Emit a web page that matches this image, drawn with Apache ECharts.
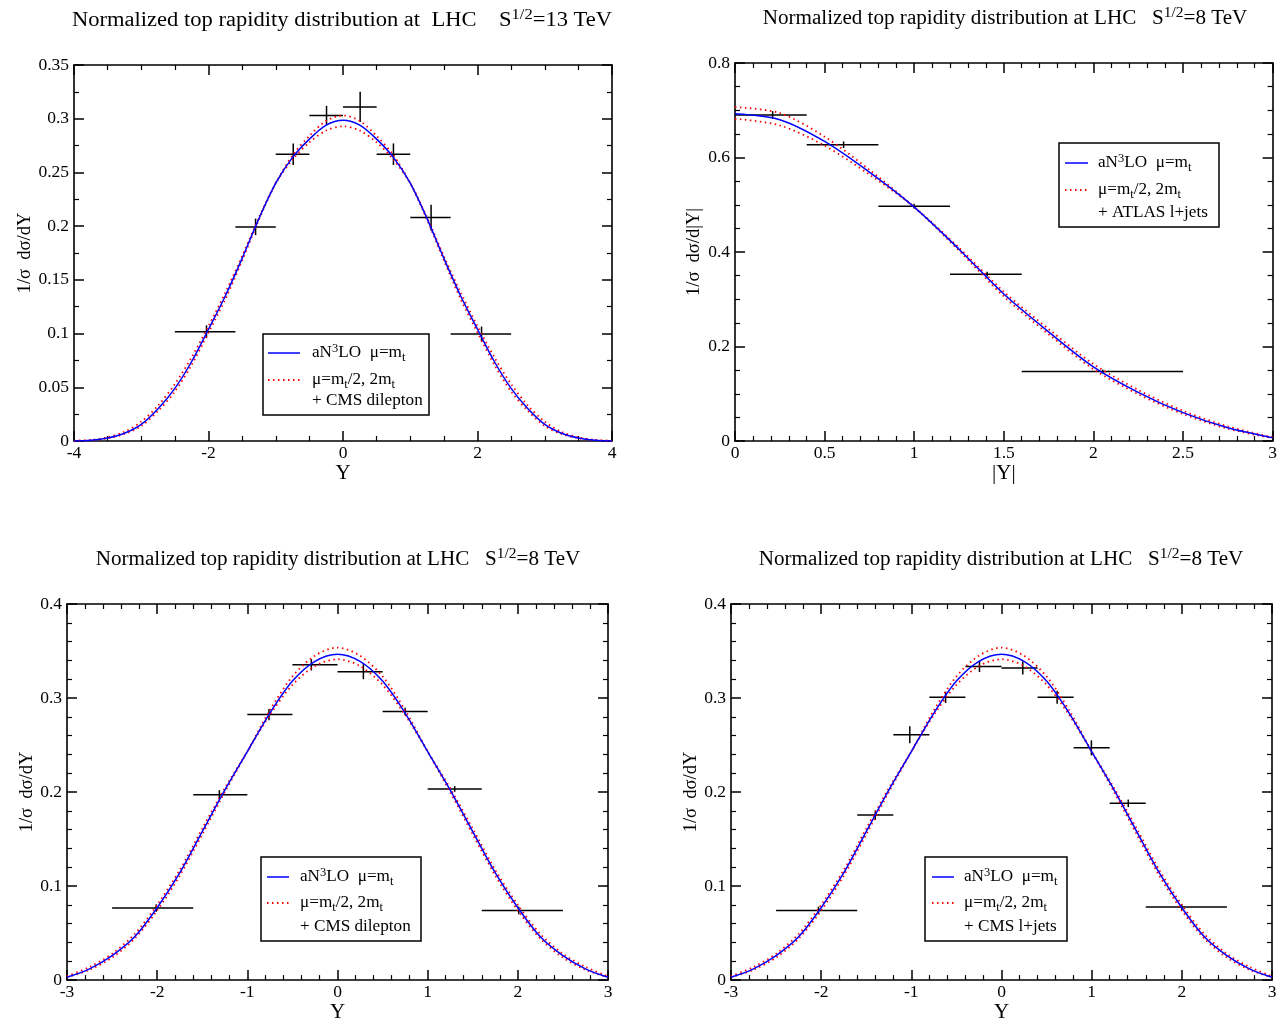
<!DOCTYPE html>
<html><head><meta charset="utf-8">
<script src="https://cdn.jsdelivr.net/npm/echarts@6/dist/echarts.min.js"></script>
<style>html,body{margin:0;padding:0;background:#fff}#c{width:1280px;height:1024px}</style>
</head><body><div id="c"></div><script>
// ---------- Panel 1: 13 TeV, CMS dilepton ----------
const Y13 = [-4,-3.75,-3.5,-3.25,-3,-2.75,-2.5,-2.25,-2,-1.75,-1.5,-1.25,-1,-0.75,-0.5,-0.25,0,0.25,0.5,0.75,1,1.25,1.5,1.75,2,2.25,2.5,2.75,3,3.25,3.5,3.75,4];
const blue13 = [0.0001,0.0008,0.0028,0.0072,0.0155,0.030,0.049,0.074,0.104,0.135,0.170,0.207,0.240,0.264,0.281,0.294,0.2985,0.294,0.281,0.264,0.240,0.207,0.170,0.135,0.104,0.074,0.049,0.030,0.0155,0.0072,0.0028,0.0008,0.0001];
const redHi13 = [0.0001,0.0007,0.0025,0.0065,0.014,0.028,0.046,0.071,0.101,0.132,0.168,0.206,0.240,0.266,0.284,0.298,0.303,0.298,0.284,0.266,0.240,0.206,0.168,0.132,0.101,0.071,0.046,0.028,0.014,0.0065,0.0025,0.0007,0.0001];
const redLo13 = [0.0002,0.001,0.0035,0.0085,0.018,0.033,0.053,0.078,0.107,0.138,0.172,0.208,0.240,0.262,0.278,0.289,0.293,0.289,0.278,0.262,0.240,0.208,0.172,0.138,0.107,0.078,0.053,0.033,0.018,0.0085,0.0035,0.001,0.0002];
const cmsDil13X  = [-2.03,-1.30,-0.74,-0.245,0.255,0.75,1.31,2.06];
const cmsDil13V  = [0.1017,0.1993,0.267,0.303,0.311,0.267,0.208,0.0995];
const cmsDil13Lo = [-2.5,-1.6,-1.0,-0.5,0,0.5,1.0,1.6];
const cmsDil13Hi = [-1.6,-1.0,-0.5,0,0.5,1.0,1.6,2.5];
const cmsDil13E  = [0.006,0.0077,0.010,0.009,0.014,0.010,0.012,0.007];

// ---------- Panel 2: 8 TeV |Y|, ATLAS l+jets ----------
const Yabs = [0,0.25,0.5,0.75,1,1.25,1.5,1.75,2,2.25,2.5,2.75,3];
const blueAbs  = [0.6926,0.680,0.634,0.569,0.495,0.406,0.311,0.231,0.157,0.103,0.060,0.028,0.007];
const redHiAbs = [0.7067,0.694,0.644,0.574,0.495,0.403,0.306,0.226,0.152,0.099,0.057,0.026,0.006];
const redLoAbs = [0.682,0.668,0.625,0.564,0.495,0.409,0.316,0.237,0.163,0.108,0.064,0.031,0.008];
const atlasX  = [0.21,0.606,0.999,1.407,2.052];
const atlasV  = [0.690,0.627,0.497,0.353,0.147];
const atlasLo = [0,0.4,0.8,1.2,1.6];
const atlasHi = [0.4,0.8,1.2,1.6,2.5];
const atlasE  = [0.008,0.007,0.005,0.005,0.004];

// ---------- Panels 3 & 4: 8 TeV Y theory ----------
const Y8 = [-3,-2.75,-2.5,-2.25,-2,-1.75,-1.5,-1.25,-1,-0.75,-0.5,-0.25,0,0.25,0.5,0.75,1,1.25,1.5,1.75,2,2.25,2.5,2.75,3];
const blue8  = [0.003,0.012,0.026,0.046,0.077,0.114,0.158,0.202,0.243,0.284,0.318,0.339,0.3466,0.339,0.318,0.284,0.243,0.202,0.158,0.114,0.077,0.046,0.026,0.012,0.003];
const redHi8 = [0.003,0.011,0.024,0.044,0.074,0.111,0.155,0.200,0.243,0.287,0.323,0.345,0.3537,0.345,0.323,0.287,0.243,0.200,0.155,0.111,0.074,0.044,0.024,0.011,0.003];
const redLo8 = [0.004,0.014,0.028,0.049,0.080,0.117,0.161,0.204,0.243,0.282,0.314,0.334,0.3413,0.334,0.314,0.282,0.243,0.204,0.161,0.117,0.080,0.049,0.028,0.014,0.004];
// Panel 3: CMS dilepton 8 TeV
const cmsDil8X  = [-2.01,-1.31,-0.76,-0.29,0.287,0.75,1.30,2.01];
const cmsDil8V  = [0.0766,0.197,0.2824,0.3353,0.328,0.2856,0.2033,0.0741];
const cmsDil8Lo = [-2.5,-1.6,-1.0,-0.5,0,0.5,1.0,1.6];
const cmsDil8Hi = [-1.6,-1.0,-0.5,0,0.5,1.0,1.6,2.5];
const cmsDil8E  = [0.004,0.005,0.006,0.006,0.008,0.004,0.003,0.004];
// Panel 4: CMS l+jets 8 TeV
const cmsLj8X  = [-2.03,-1.40,-1.017,-0.62,-0.244,0.236,0.617,0.997,1.406,1.998];
const cmsLj8V  = [0.0741,0.1755,0.261,0.3008,0.3336,0.332,0.3008,0.247,0.188,0.0777];
const cmsLj8Lo = [-2.5,-1.6,-1.2,-0.8,-0.4,0,0.4,0.8,1.2,1.6];
const cmsLj8Hi = [-1.6,-1.2,-0.8,-0.4,0,0.4,0.8,1.2,1.6,2.5];
const cmsLj8E  = [0.004,0.005,0.009,0.006,0.006,0.007,0.007,0.008,0.004,0.003];

// ---------- texts ----------
const titles = [
  'Normalized top rapidity distribution at  LHC    S{sup|1/2}=13 TeV',
  'Normalized top rapidity distribution at LHC   S{sup|1/2}=8 TeV',
  'Normalized top rapidity distribution at LHC   S{sup|1/2}=8 TeV',
  'Normalized top rapidity distribution at LHC   S{sup|1/2}=8 TeV'
];
const legendLine1 = 'aN{sup|3}LO  μ=m{sub|t}';
const legendLine2 = 'μ=m{sub|t}/2, 2m{sub|t}';
const dataLabels = ['+ CMS dilepton','+ ATLAS l+jets','+ CMS dilepton','+ CMS l+jets'];

const FONT = '"Liberation Serif","Times New Roman",serif';
const grids = [
  {left:74, top:65, width:538, height:376},
  {left:735, top:63, width:539, height:378},
  {left:67, top:604, width:541, height:377},
  {left:731, top:604, width:541, height:377}
];

function axisBase(g, min, max, interval, minor){
  return {gridIndex:g, type:'value', min:min, max:max, interval:interval,
    axisLine:{show:true, onZero:false, lineStyle:{color:'#000', width:1.6}},
    axisTick:{show:true, inside:true, length:10, lineStyle:{color:'#000', width:1.5}},
    minorTick:{show:true, splitNumber:minor, length:5, lineStyle:{color:'#000', width:1.2}},
    splitLine:{show:false}, minorSplitLine:{show:false}};
}
const xAxes = [], yAxes = [];
function addAxes(g, xs, ys){
  xAxes.push(Object.assign(axisBase(g, xs.min, xs.max, xs.interval, xs.minor), {
    position:'bottom', name:xs.name, nameLocation:'middle', nameGap:xs.gap,
    nameTextStyle:{fontFamily:FONT, fontSize:21, color:'#000'},
    axisLabel:{fontFamily:FONT, fontSize:17.5, color:'#000', margin:3}}));
  xAxes.push(Object.assign(axisBase(g, xs.min, xs.max, xs.interval, xs.minor), {
    position:'top', axisLabel:{show:false}}));
  yAxes.push(Object.assign(axisBase(g, ys.min, ys.max, ys.interval, ys.minor), {
    position:'left', name:ys.name, nameLocation:'middle', nameGap:ys.gap, nameRotate:90,
    nameTextStyle:{fontFamily:FONT, fontSize:18.5, color:'#000'},
    axisLabel:{fontFamily:FONT, fontSize:17.5, color:'#000', margin:5}}));
  yAxes.push(Object.assign(axisBase(g, ys.min, ys.max, ys.interval, ys.minor), {
    position:'right', axisLabel:{show:false}}));
}
addAxes(0, {min:-4,max:4,interval:2,minor:4,name:'Y',gap:21}, {min:0,max:0.35,interval:0.05,minor:2,name:'1/σ  dσ/dY',gap:29});
addAxes(1, {min:0,max:3,interval:0.5,minor:5,name:'|Y|',gap:21}, {min:0,max:0.8,interval:0.2,minor:4,name:'1/σ  dσ/d|Y|',gap:31});
addAxes(2, {min:-3,max:3,interval:1,minor:5,name:'Y',gap:19}, {min:0,max:0.4,interval:0.1,minor:5,name:'1/σ  dσ/dY',gap:30});
addAxes(3, {min:-3,max:3,interval:1,minor:5,name:'Y',gap:19}, {min:0,max:0.4,interval:0.1,minor:5,name:'1/σ  dσ/dY',gap:30});

function pairs(xs, ys){ return xs.map((x,i)=>[x, ys[i]]); }
function errRows(x,v,lo,hi,e){ return x.map((c,i)=>[c, v[i], lo[i], hi[i], e[i]]); }
function errRender(params, api){
  const x=api.value(0), y=api.value(1), lo=api.value(2), hi=api.value(3), e=api.value(4);
  const pL=api.coord([lo,y]), pR=api.coord([hi,y]), pT=api.coord([x,y+e]), pB=api.coord([x,y-e]);
  const st = {stroke:'#000', lineWidth:1.5};
  return {type:'group', children:[
    {type:'line', shape:{x1:pL[0],y1:pL[1],x2:pR[0],y2:pR[1]}, style:st},
    {type:'line', shape:{x1:pT[0],y1:pT[1],x2:pB[0],y2:pB[1]}, style:st}
  ]};
}
const series = [];
function addPanel(g, X, blue, rHi, rLo, rows){
  const ax = {xAxisIndex:2*g, yAxisIndex:2*g};
  series.push(Object.assign({type:'custom', renderItem:errRender, data:rows, encode:{x:0,y:1}, z:3}, ax));
  series.push(Object.assign({type:'line', data:pairs(X,rHi), showSymbol:false, smooth:0.3, z:4,
    lineStyle:{color:'#ff0000', width:1.8, type:[1.5,3.5]}}, ax));
  series.push(Object.assign({type:'line', data:pairs(X,rLo), showSymbol:false, smooth:0.3, z:4,
    lineStyle:{color:'#ff0000', width:1.8, type:[1.5,3.5]}}, ax));
  series.push(Object.assign({type:'line', data:pairs(X,blue), showSymbol:false, smooth:0.3, z:5,
    lineStyle:{color:'#0000ff', width:1.5}}, ax));
}
addPanel(0, Y13, blue13, redHi13, redLo13, errRows(cmsDil13X,cmsDil13V,cmsDil13Lo,cmsDil13Hi,cmsDil13E));
addPanel(1, Yabs, blueAbs, redHiAbs, redLoAbs, errRows(atlasX,atlasV,atlasLo,atlasHi,atlasE));
addPanel(2, Y8, blue8, redHi8, redLo8, errRows(cmsDil8X,cmsDil8V,cmsDil8Lo,cmsDil8Hi,cmsDil8E));
addPanel(3, Y8, blue8, redHi8, redLo8, errRows(cmsLj8X,cmsLj8V,cmsLj8Lo,cmsLj8Hi,cmsLj8E));

function richFor(size){
  const s = Math.round(size*0.72);
  return {
    sup:{fontFamily:FONT, fontSize:s, fill:'#000', padding:[0,0,Math.round(size*0.55),0], verticalAlign:'middle'},
    sub:{fontFamily:FONT, fontSize:s, fill:'#000', padding:[Math.round(size*0.55),0,0,0], verticalAlign:'middle'}
  };
}
const graphics = [];
const titlePos = [[342,21],[1005,19],[338,560],[1001,560]];
const titleScale = [1.1,1.03,1.03,1.03];
titles.forEach((t,i)=>{
  graphics.push({type:'text', x:titlePos[i][0], y:titlePos[i][1], z:100, scaleX:titleScale[i],
    style:{text:t, rich:richFor(20.5), fontFamily:FONT, fontSize:20.5, fill:'#000', align:'center', verticalAlign:'middle'}});
});
// legend boxes: [boxX, boxY, boxW, boxH, lineX1, lineX2, textX, row1, row2, row3]
const legendBoxes = [
  [263,334,166,81, 268,300, 312, 353,380,401],
  [1059,143,160,84, 1065,1088, 1098, 163,190,213],
  [261,857,160,84, 267,289, 300, 877,903,927],
  [925,857,142,84, 932,954, 964, 877,903,927]
];
legendBoxes.forEach((b,i)=>{
  graphics.push({type:'rect', z:100, shape:{x:b[0],y:b[1],width:b[2],height:b[3]},
    style:{fill:'#fff', stroke:'#000', lineWidth:1.5}});
  graphics.push({type:'line', z:101, shape:{x1:b[4],y1:b[7],x2:b[5],y2:b[7]},
    style:{stroke:'#0000ff', lineWidth:1.5}});
  graphics.push({type:'line', z:101, shape:{x1:b[4],y1:b[8],x2:b[5],y2:b[8]},
    style:{stroke:'#ff0000', lineWidth:1.8, lineDash:[1.5,3.5]}});
  const txts = [legendLine1, legendLine2, dataLabels[i]];
  txts.forEach((t,k)=>{
    graphics.push({type:'text', z:101, x:b[6], y:b[7+k], scaleX:1.04,
      style:{text:t, rich:richFor(16.5), fontFamily:FONT, fontSize:16.5, fill:'#000', align:'left', verticalAlign:'middle'}});
  });
});

const chart = echarts.init(document.getElementById('c'), null, {renderer:'canvas'});
chart.setOption({
  backgroundColor:'#fff',
  animation:false,
  grid:grids,
  xAxis:xAxes,
  yAxis:yAxes,
  series:series,
  graphic:graphics
});
</script></body></html>
